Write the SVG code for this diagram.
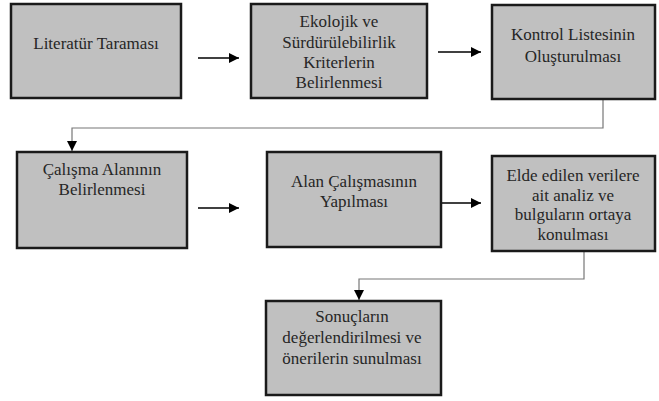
<svg xmlns="http://www.w3.org/2000/svg" width="659" height="401" viewBox="0 0 659 401">
<style>
.box{fill:#c0c0c0;stroke:#1a1a1a;stroke-width:2.5}
text{font-family:'Liberation Serif','Times New Roman',serif;font-size:17px;fill:#262626;text-anchor:middle}
.a{stroke:#000;stroke-width:1.5;fill:none}
.c{stroke:#777;stroke-width:1.2;fill:none}
</style>
<defs>
<marker id="ah" viewBox="0 0 10 10" refX="10" refY="5" markerWidth="10" markerHeight="10" markerUnits="userSpaceOnUse" orient="auto"><path d="M0,0 L10,5 L0,10 z" fill="#000"/></marker>
</defs>
<rect width="659" height="401" fill="#fff"/>
<g id="connectors">
<line class="a" x1="198" y1="58" x2="239" y2="58" marker-end="url(#ah)"/>
<line class="a" x1="438" y1="52" x2="481" y2="52" marker-end="url(#ah)"/>
<polyline class="c" points="603,99 603,128 72,128 72,151" marker-end="url(#ah)"/>
<line class="a" x1="198" y1="208" x2="239" y2="208" marker-end="url(#ah)"/>
<line class="a" x1="441" y1="203" x2="481" y2="203" marker-end="url(#ah)"/>
<polyline class="c" points="584,251 584,279 359,279 359,300" marker-end="url(#ah)"/>
</g>
<g id="n1"><rect class="box" x="11" y="4" width="170" height="94"/><text x="96" y="49">Literatür Taraması</text></g>
<g id="n2"><rect class="box" x="251" y="4" width="176" height="94"/><text x="339" y="27">Ekolojik ve</text><text x="339" y="48">Sürdürülebilirlik</text><text x="339" y="68">Kriterlerin</text><text x="339" y="88">Belirlenmesi</text></g>
<g id="n3"><rect class="box" x="492" y="5" width="163" height="94"/><text x="573" y="40">Kontrol Listesinin</text><text x="573" y="62">Oluşturulması</text></g>
<g id="n4"><rect class="box" x="17" y="152" width="170" height="96"/><text x="102" y="175">Çalışma Alanının</text><text x="102" y="195">Belirlenmesi</text></g>
<g id="n5"><rect class="box" x="267" y="152" width="174" height="95"/><text x="354" y="187">Alan Çalışmasının</text><text x="354" y="207">Yapılması</text></g>
<g id="n6"><rect class="box" x="492" y="156" width="163" height="95"/><text x="573" y="181">Elde edilen verilere</text><text x="573" y="201">ait analiz ve</text><text x="573" y="220">bulguların ortaya</text><text x="573" y="240">konulması</text></g>
<g id="n7"><rect class="box" x="266" y="301" width="175" height="94"/><text x="352" y="322">Sonuçların</text><text x="352" y="343">değerlendirilmesi ve</text><text x="352" y="364">önerilerin sunulması</text></g>
</svg>
